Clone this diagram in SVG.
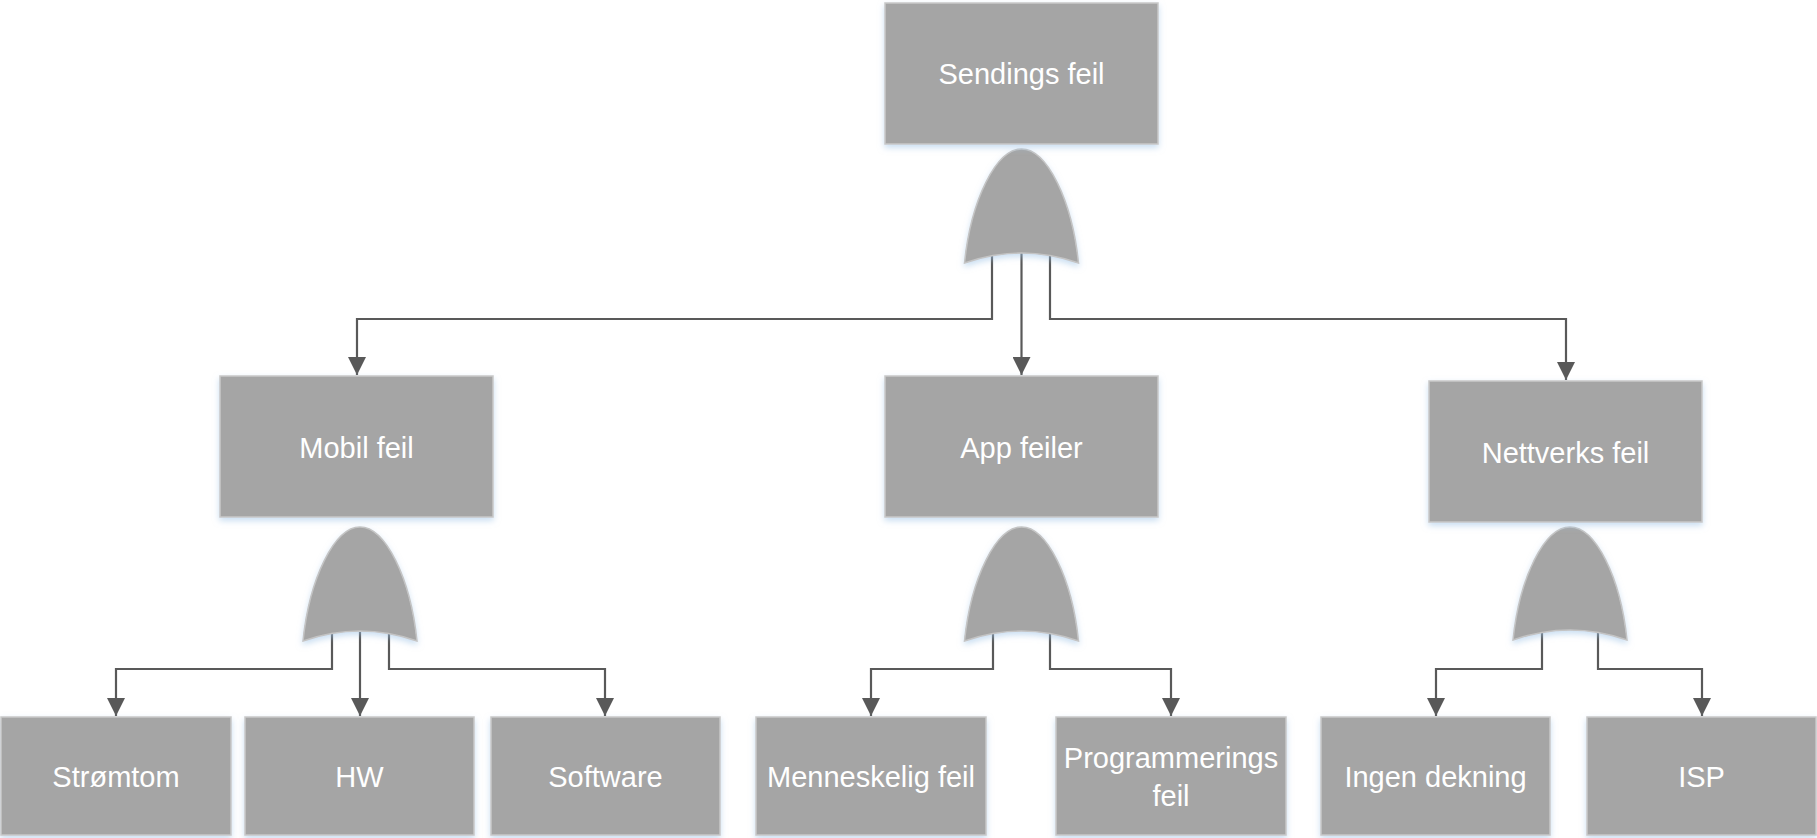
<svg xmlns="http://www.w3.org/2000/svg" width="1817" height="838" viewBox="0 0 1817 838">
<style>
.box{fill:#a5a5a5;stroke:#c9c9c9;stroke-width:1.5;filter:url(#glow)}
.gate{fill:#a5a5a5;stroke:#c4c4c4;stroke-width:1.5;filter:url(#glow)}
.lbl{font-family:"Liberation Sans",Arial,sans-serif;font-size:29px;fill:#ffffff;text-anchor:middle}
.con{fill:none;stroke:#595959;stroke-width:2.2;marker-end:url(#arr)}
</style>
<defs>
<filter id="glow" x="-10%" y="-10%" width="120%" height="130%">
<feDropShadow dx="0" dy="3" stdDeviation="3" flood-color="#9dc3e6" flood-opacity="0.55"/>
</filter>
<marker id="arr" markerUnits="userSpaceOnUse" markerWidth="18" markerHeight="18" refX="18" refY="9" orient="auto">
<path d="M0,0 L18,9 L0,18 Z" fill="#595959"/>
</marker>
</defs>
<rect width="1817" height="838" fill="#ffffff"/>
<g id="connectors">
<path class="con" d="M992,252 V319 H357 V375"/>
<path class="con" d="M1021.5,252 V375"/>
<path class="con" d="M1050,252 V319 H1566 V380"/>
<path class="con" d="M332,632 V669 H116 V716"/>
<path class="con" d="M360,632 V716"/>
<path class="con" d="M389,632 V669 H605 V716"/>
<path class="con" d="M993,632 V669 H871 V716"/>
<path class="con" d="M1050,632 V669 H1171 V716"/>
<path class="con" d="M1542,631 V669 H1436 V716"/>
<path class="con" d="M1598,631 V669 H1702 V716"/>
</g>
<g id="gate-top"><path class="gate" d="M964.5,263 C971,200 996,149 1021.5,149 C1047,149 1072,200 1078.5,263 Q1021.5,243 964.5,263 Z"/></g>
<g id="gate-mobil"><path class="gate" d="M303,641 C309.5,578 334.5,527 360,527 C385.5,527 410.5,578 417,641 Q360,621 303,641 Z"/></g>
<g id="gate-app"><path class="gate" d="M964.5,641 C971,578 996,527 1021.5,527 C1047,527 1072,578 1078.5,641 Q1021.5,621 964.5,641 Z"/></g>
<g id="gate-nett"><path class="gate" d="M1513,640 C1519.5,577 1544.5,527 1570,527 C1595.5,527 1620.5,577 1627,640 Q1570,620 1513,640 Z"/></g>
<g id="sendings-feil"><rect class="box" x="885" y="3" width="273" height="141"/><text class="lbl" x="1021.5" y="84">Sendings feil</text></g>
<g id="mobil-feil"><rect class="box" x="220" y="376" width="273" height="141"/><text class="lbl" x="356.5" y="458">Mobil feil</text></g>
<g id="app-feiler"><rect class="box" x="885" y="376" width="273" height="141"/><text class="lbl" x="1021.5" y="458">App feiler</text></g>
<g id="nettverks-feil"><rect class="box" x="1429" y="381" width="273" height="141"/><text class="lbl" x="1565.5" y="463">Nettverks feil</text></g>
<g id="stromtom"><rect class="box" x="1" y="717" width="230" height="118"/><text class="lbl" x="116" y="787">Strømtom</text></g>
<g id="hw"><rect class="box" x="245" y="717" width="229" height="118"/><text class="lbl" x="359.5" y="787">HW</text></g>
<g id="software"><rect class="box" x="491" y="717" width="229" height="118"/><text class="lbl" x="605.5" y="787">Software</text></g>
<g id="menneskelig-feil"><rect class="box" x="756" y="717" width="230" height="118"/><text class="lbl" x="871" y="787">Menneskelig feil</text></g>
<g id="programmerings-feil"><rect class="box" x="1056" y="717" width="230" height="118"/><text class="lbl" x="1171" y="768">Programmerings</text><text class="lbl" x="1171" y="806">feil</text></g>
<g id="ingen-dekning"><rect class="box" x="1321" y="717" width="229" height="118"/><text class="lbl" x="1435.5" y="787">Ingen dekning</text></g>
<g id="isp"><rect class="box" x="1587" y="717" width="229" height="118"/><text class="lbl" x="1701.5" y="787">ISP</text></g>
</svg>
